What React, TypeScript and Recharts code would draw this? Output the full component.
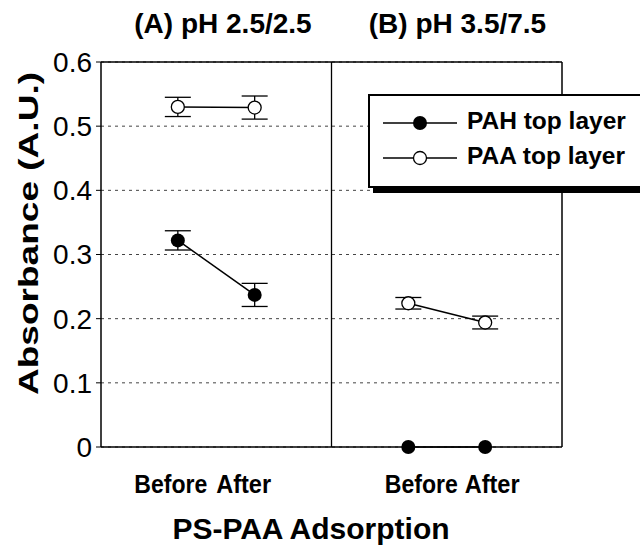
import { LineChart, Line, XAxis, YAxis, CartesianGrid, ReferenceLine, ErrorBar, Legend } from 'recharts'

const phaseLabels = ['Before', 'After', 'Before', 'After']
const phaseTicks = [1, 2, 4, 5]
const panelTitles = ['(A) pH 2.5/2.5', '(B) pH 3.5/7.5']
const yTicks = [0, 0.1, 0.2, 0.3, 0.4, 0.5, 0.6]
const seriesNames = ['PAH top layer', 'PAA top layer']

const xA = [1, 2]
const xB = [4, 5]
const pahA = [0.322, 0.237]
const pahAErr = [0.015, 0.018]
const paaA = [0.53, 0.529]
const paaAErr = [0.015, 0.018]
const pahB = [0, 0]
const paaB = [0.224, 0.194]
const paaBErr = [0.009, 0.01]

const FONT = "'Liberation Sans', Arial, sans-serif"

const build = (xs: number[], ys: number[], errs?: number[]) =>
  xs.map((x, i) => ({ x, y: ys[i], err: errs ? errs[i] : 0 }))

const pahAData = build(xA, pahA, pahAErr)
const paaAData = build(xA, paaA, paaAErr)
const pahBData = build(xB, pahB)
const paaBData = build(xB, paaB, paaBErr)

// hand-placed labels in the original sit a little off the tick centres
const phaseShift = [-7, -11, 13, 7]
// title centres relative to the panel divider
const titleOffset = [-108.5, 126]

const solidDot = (p: any) => <circle key={`s${p.index}`} cx={p.cx} cy={p.cy} r={7} fill="#000" />
const openDot = (p: any) => (
  <circle key={`o${p.index}`} cx={p.cx} cy={p.cy} r={6.5} fill="#fff" stroke="#000" strokeWidth={1.3} />
)

const PhaseTick = ({ x, y, index }: any) => (
  <text
    x={x + phaseShift[index]}
    y={y + 46}
    textAnchor="middle"
    fontFamily={FONT}
    fontWeight="bold"
    fontSize={25}
    textLength={phaseLabels[index] === 'Before' ? 73 : 55}
    lengthAdjust="spacingAndGlyphs"
    fill="#000"
  >
    {phaseLabels[index]}
  </text>
)

const panelHeads = ({ viewBox }: any) => (
  <g>
    {panelTitles.map((t, i) => (
      <text
        key={t}
        x={viewBox.x + titleOffset[i]}
        y={33}
        textAnchor="middle"
        fontFamily={FONT}
        fontWeight="bold"
        fontSize={28}
        fill="#000"
      >
        {t}
      </text>
    ))}
  </g>
)

const yTitle = () => (
  <text
    x={28.5}
    y={233.5}
    transform="rotate(-90, 28.5, 233.5)"
    textAnchor="middle"
    dominantBaseline="central"
    fontFamily={FONT}
    fontWeight="bold"
    fontSize={28}
    textLength={323}
    lengthAdjust="spacingAndGlyphs"
    fill="#000"
  >
    Absorbance (A.U.)
  </text>
)

const xTitle = () => (
  <text x={311} y={539} textAnchor="middle" fontFamily={FONT} fontWeight="bold" fontSize={30} fill="#000">
    PS-PAA Adsorption
  </text>
)

const LegendBox = () => (
  <svg width={290} height={90} style={{ display: 'block' }}>
    {seriesNames.map((name, i) => {
      const cy = 27 + i * 35
      return (
        <g key={name}>
          <line x1={13} x2={87} y1={cy} y2={cy} stroke="#000" strokeWidth={1.3} />
          {i === 0 ? (
            <circle cx={50} cy={cy} r={7} fill="#000" />
          ) : (
            <circle cx={50} cy={cy} r={6.5} fill="#fff" stroke="#000" strokeWidth={1.3} />
          )}
          <text x={97} y={cy + 6} fontFamily={FONT} fontWeight="bold" fontSize={24.5} fill="#000">
            {name}
          </text>
        </g>
      )
    })}
  </svg>
)

export default function App() {
  return (
    <div style={{ position: 'absolute', left: 0, top: 0, width: 640, height: 547, overflow: 'hidden', background: '#fff' }}>
      <LineChart width={640} height={547} margin={{ top: 62, right: 78, bottom: 70, left: 0 }}>
        <CartesianGrid vertical={false} strokeDasharray="3 4" stroke="#444" />
        <XAxis
          type="number"
          dataKey="x"
          domain={[0, 6]}
          ticks={phaseTicks}
          tick={<PhaseTick />}
          height={30}
          tickLine={false}
          tickSize={0}
          tickMargin={0}
          axisLine={{ stroke: '#000', strokeWidth: 1.5 }}
          label={{ content: xTitle }}
        />
        <YAxis
          type="number"
          domain={[0, 0.6]}
          ticks={yTicks}
          width={101}
          tickSize={5}
          tickMargin={4}
          tick={{ fontSize: 28, fill: '#000', fontFamily: FONT }}
          tickLine={{ stroke: '#000' }}
          axisLine={{ stroke: '#000', strokeWidth: 1.5 }}
          label={{ content: yTitle }}
        />
        <ReferenceLine y={0.6} stroke="#000" strokeWidth={1.5} />
        <ReferenceLine x={6} stroke="#000" strokeWidth={1.5} />
        <ReferenceLine x={3} stroke="#000" strokeWidth={1.3} label={{ content: panelHeads }} />
        <Line data={pahAData} dataKey="y" name={seriesNames[0]} stroke="#000" strokeWidth={1.5} dot={solidDot} isAnimationActive={false}>
          <ErrorBar dataKey="err" width={13} stroke="#000" strokeWidth={1.3} direction="y" />
        </Line>
        <Line data={paaAData} dataKey="y" name={seriesNames[1]} stroke="#000" strokeWidth={1.5} dot={openDot} isAnimationActive={false}>
          <ErrorBar dataKey="err" width={13} stroke="#000" strokeWidth={1.3} direction="y" />
        </Line>
        <Line data={pahBData} dataKey="y" legendType="none" stroke="#000" strokeWidth={1.5} dot={solidDot} isAnimationActive={false} />
        <Line data={paaBData} dataKey="y" legendType="none" stroke="#000" strokeWidth={1.5} dot={openDot} isAnimationActive={false}>
          <ErrorBar dataKey="err" width={13} stroke="#000" strokeWidth={1.3} direction="y" />
        </Line>
        <Legend
          layout="vertical"
          align="center"
          verticalAlign="middle"
          content={() => <LegendBox />}
          wrapperStyle={{
            position: 'absolute',
            left: 368,
            top: 94,
            width: 294,
            height: 94,
            boxSizing: 'border-box',
            border: '2px solid #000',
            background: '#fff',
            boxShadow: '5px 5px 0 #000',
          }}
        />
      </LineChart>
    </div>
  )
}
